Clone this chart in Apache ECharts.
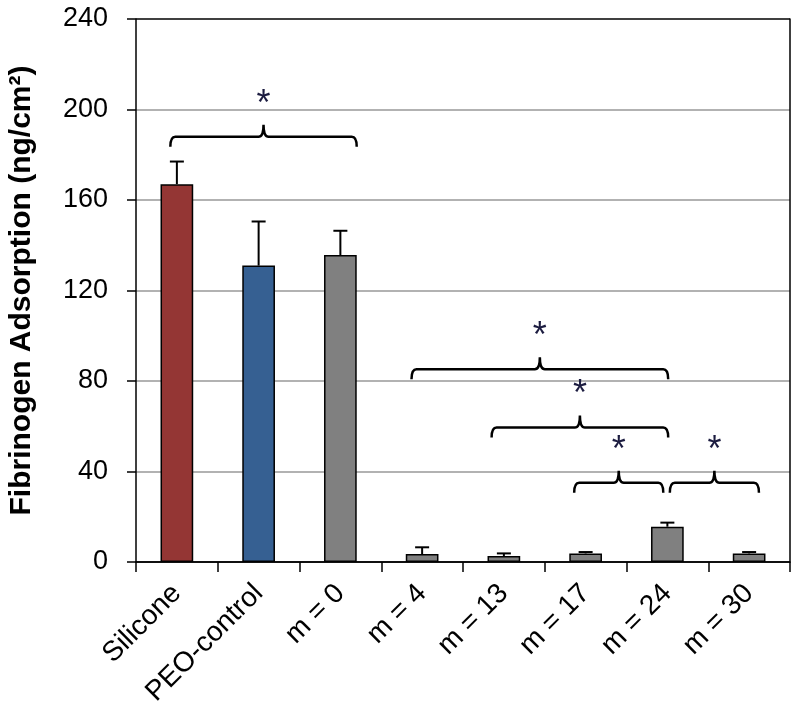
<!DOCTYPE html>
<html>
<head>
<meta charset="utf-8">
<script src="https://cdn.jsdelivr.net/npm/echarts@6/dist/echarts.min.js"></script>
<style>html,body{margin:0;padding:0;background:#fff}#c{width:800px;height:724px}</style>
</head>
<body>
<div id="c"></div>
<script>
const categories = ['Silicone', 'PEO-control', 'm = 0', 'm = 4', 'm = 13', 'm = 17', 'm = 24', 'm = 30'];
const means = [167, 131, 135.7, 3.5, 2.6, 3.8, 15.6, 3.8];
const errors = [10, 19.5, 10.7, 3, 1.2, 0.6, 1.8, 0.6];
const barColors = ['#943634', '#366092', '#808080', '#808080', '#808080', '#808080', '#808080', '#808080'];
const yMin = 0, yMax = 240, yStep = 40;
// significance brackets: [start (category units), end (category units), level]
const brackets = [
  [0.42, 2.70, 188],
  [3.37, 6.51, 85.2],
  [4.35, 6.51, 59.5],
  [5.36, 6.45, 35],
  [6.53, 7.62, 35]
];

const chart = echarts.init(document.getElementById('c'), null, {renderer: 'canvas'});
const FONT = 'Liberation Sans, Arial, sans-serif';

chart.setOption({
  animation: false,
  backgroundColor: '#fff',
  grid: {left: 136, right: 10, top: 19, bottom: 162, containLabel: false, outerBoundsMode: 'none'},
  xAxis: [{
    type: 'category',
    data: categories,
    axisLine: {lineStyle: {color: '#000', width: 1.5}},
    axisTick: {show: true, length: 10, lineStyle: {color: '#000', width: 1.5}},
    axisLabel: {rotate: 45, fontSize: 28, color: '#000', fontFamily: FONT, margin: 27, interval: 0},
    splitLine: {show: false}
  }, {
    type: 'value', min: 0, max: 8, show: false
  }],
  yAxis: [{
    type: 'value',
    min: yMin, max: yMax, interval: yStep,
    name: 'Fibrinogen Adsorption (ng/cm²)',
    nameLocation: 'middle',
    nameGap: 99,
    nameTextStyle: {fontSize: 30, fontWeight: 'bold', color: '#000', fontFamily: FONT},
    axisLine: {show: true, lineStyle: {color: '#000', width: 1.5}},
    axisTick: {show: true, length: 9, lineStyle: {color: '#000', width: 1.5}},
    axisLabel: {fontSize: 27, color: '#000', fontFamily: FONT, margin: 28},
    splitLine: {show: true, lineStyle: {color: ['#000', '#999', '#999', '#999', '#999', '#999', '#000'], width: 1.5}}
  }, {
    type: 'value',
    position: 'right',
    min: yMin, max: yMax, interval: yStep,
    axisLine: {show: true, lineStyle: {color: '#000', width: 1.5}},
    axisTick: {show: false},
    axisLabel: {show: false},
    splitLine: {show: false}
  }],
  series: [{
    type: 'bar',
    data: means.map((v, i) => ({value: v, itemStyle: {color: barColors[i]}})),
    barWidth: '40%',
    itemStyle: {borderColor: '#000', borderWidth: 1.5},
    z: 2
  }, {
    type: 'custom',
    z: 3,
    data: means.map((v, i) => [i, v, v + errors[i]]),
    renderItem: function (params, api) {
      const base = api.coord([api.value(0), api.value(1)]);
      const top = api.coord([api.value(0), api.value(2)]);
      const half = 7;
      return {
        type: 'group',
        children: [
          {type: 'line', shape: {x1: base[0], y1: base[1], x2: top[0], y2: top[1]}, style: {stroke: '#000', lineWidth: 2}},
          {type: 'line', shape: {x1: top[0] - half, y1: top[1], x2: top[0] + half, y2: top[1]}, style: {stroke: '#000', lineWidth: 2}}
        ]
      };
    }
  }, {
    type: 'custom',
    xAxisIndex: 1,
    z: 4,
    data: brackets,
    renderItem: function (params, api) {
      const p1 = api.coord([api.value(0), api.value(2)]);
      const p2 = api.coord([api.value(1), api.value(2)]);
      const y = p1[1], x1 = p1[0], x2 = p2[0], xm = (x1 + x2) / 2;
      const d = 'M' + x1 + ',' + (y + 10) + ' Q' + x1 + ',' + y + ' ' + (x1 + 5) + ',' + y +
        ' L' + (xm - 5) + ',' + y + ' Q' + xm + ',' + y + ' ' + xm + ',' + (y - 12) +
        ' Q' + xm + ',' + y + ' ' + (xm + 5) + ',' + y +
        ' L' + (x2 - 5) + ',' + y + ' Q' + x2 + ',' + y + ' ' + x2 + ',' + (y + 10);
      return {
        type: 'group',
        children: [
          {type: 'path', shape: {pathData: d}, style: {stroke: '#000', lineWidth: 2.5, fill: null}},
          {type: 'text', x: xm, y: y - 32, style: {text: '*', fontSize: 36, fontFamily: FONT, fill: '#1c1c40', align: 'center', verticalAlign: 'middle'}}
        ]
      };
    }
  }]
});
</script>
</body>
</html>
